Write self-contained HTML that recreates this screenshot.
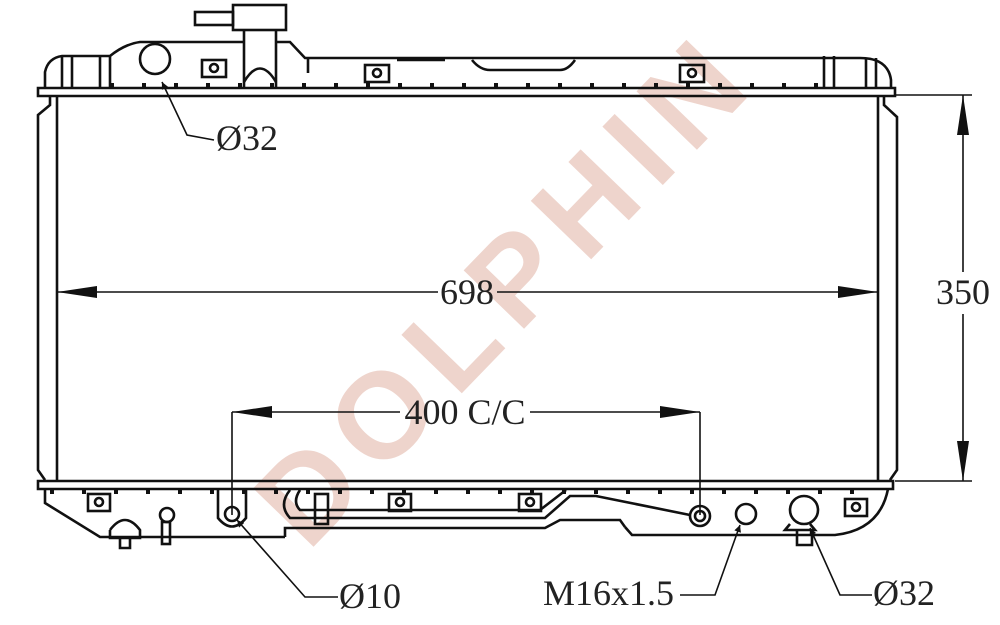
<!DOCTYPE html>
<html><head><meta charset="utf-8"><style>
html,body{margin:0;padding:0;background:#fff;width:1000px;height:625px;overflow:hidden}
svg{display:block}
text{font-family:"Liberation Serif",serif;fill:#222}
</style></head><body>
<svg width="1000" height="625" viewBox="0 0 1000 625" xmlns="http://www.w3.org/2000/svg">
<defs>
<marker id="a" viewBox="0 0 10 10" refX="10" refY="5" markerWidth="12" markerHeight="7" orient="auto-start-reverse" markerUnits="userSpaceOnUse"><path d="M0,0 L10,5 L0,10 z" fill="#111"/></marker>
<marker id="b" viewBox="0 0 40 14" refX="40" refY="7" markerWidth="40" markerHeight="14" orient="auto-start-reverse" markerUnits="userSpaceOnUse"><path d="M0,1 L40,7 L0,13 z" fill="#111"/></marker>
</defs>
<text x="0" y="0" transform="translate(507,300) rotate(-46)" text-anchor="middle" dominant-baseline="middle" textLength="640" lengthAdjust="spacing" style="font-family:'Liberation Sans',sans-serif;font-weight:bold;font-size:122px;fill:#eed4cc">DOLPHIN</text>

<g fill="none" stroke="#111" stroke-width="2.6">
<line x1="57" y1="97" x2="57" y2="480"/>
<line x1="878" y1="97" x2="878" y2="480"/>
<path d="M50,97 L50,105 L38,115 L38,470 L45,480"/>
<path d="M884,97 L884,105 L897,117 L897,470 L890,480"/>
<path d="M38,96 L895,96 L895,88 L38,88 Z"/>
<path d="M45,88 L45,72 Q48,58 62,56 L110,56 Q125,44 140,42 L244,42 M276,42 L290,42 L305,58 L860,58 Q888,58 891,80 L891,88"/>
<line x1="62" y1="56" x2="62" y2="88"/><line x1="72" y1="56" x2="72" y2="88"/>
<line x1="100" y1="56" x2="100" y2="88"/><line x1="110" y1="56" x2="110" y2="88"/>
<line x1="824" y1="56" x2="824" y2="88"/><line x1="834" y1="56" x2="834" y2="88"/>
<line x1="866" y1="58" x2="866" y2="88"/><line x1="876" y1="58" x2="876" y2="88"/>
<circle cx="155" cy="59" r="15"/>
<rect x="202" y="60" width="24" height="17"/><circle cx="214" cy="68" r="4"/>
<rect x="365" y="65" width="24" height="17"/><circle cx="377" cy="73" r="4"/>
<rect x="680" y="65" width="24" height="17"/><circle cx="692" cy="73" r="4"/>
<rect x="233" y="5" width="53" height="25"/>
<rect x="195" y="12" width="38" height="13"/>
<line x1="244" y1="30" x2="244" y2="88"/><line x1="276" y1="30" x2="276" y2="88"/>
<path d="M244,82 Q260,55 276,82"/>
<line x1="308" y1="58" x2="308" y2="73"/>
<path d="M397,60 L445,60 M472,60 Q480,70 490,70 L560,70 Q568,70 575,60"/>
<line x1="110" y1="85" x2="824" y2="85" stroke-width="4" stroke-dasharray="4 28"/>
<path d="M38,481 L893,481 L893,489 L38,489 Z"/>
<line x1="50" y1="492" x2="880" y2="492" stroke-width="4" stroke-dasharray="4 28"/>
<path d="M45,489 L45,503 L100,537 L285,537 M625,527 L632,535 L835,535 Q880,530 888,489"/>
<path d="M285,537 L285,528 L545,528 L560,520 L620,520 L625,527"/>
<rect x="88" y="494" width="22" height="17"/><circle cx="99" cy="502" r="4"/>
<rect x="389" y="494" width="22" height="17"/><circle cx="400" cy="502" r="4"/>
<rect x="519" y="494" width="22" height="17"/><circle cx="530" cy="502" r="4"/>
<rect x="845" y="499" width="22" height="17"/><circle cx="856" cy="507" r="4"/>
<path d="M110,530 Q125,510 140,530 L140,538 L120,538 L120,548 L130,548 L130,538 M110,530 L110,538 L140,538"/>
<circle cx="167" cy="515" r="7"/><rect x="162" y="522" width="8" height="22"/>
<path d="M218,490 L218,518 Q232,535 246,518 L246,490"/>
<circle cx="232" cy="514" r="7"/>
<path d="M290,490 Q278,505 290,518 L545,518 L570,496 L596,496 L690,515"/>
<path d="M300,490 Q292,502 300,510 L540,510 L566,490"/>
<rect x="315" y="494" width="13" height="30"/>
<circle cx="700" cy="516" r="10"/><circle cx="700" cy="516" r="5"/>
<circle cx="746" cy="514" r="10"/>
<circle cx="804" cy="510" r="14"/>
<path d="M790,524 L785,530 L815,530 L810,524 M797,530 L797,545 L812,545 L812,530"/>
</g>

<g stroke="#111" stroke-width="1.6" fill="none">
<line x1="57" y1="292" x2="438" y2="292" marker-start="url(#b)"/>
<line x1="497" y1="292" x2="878" y2="292" marker-end="url(#b)"/>
<line x1="895" y1="95" x2="972" y2="95"/>
<line x1="895" y1="481" x2="972" y2="481"/>
<line x1="963" y1="95" x2="963" y2="272" marker-start="url(#b)"/>
<line x1="963" y1="314" x2="963" y2="481" marker-end="url(#b)"/>
<line x1="232" y1="412" x2="400" y2="412" marker-start="url(#b)"/>
<line x1="530" y1="412" x2="700" y2="412" marker-end="url(#b)"/>
<line x1="232" y1="412" x2="232" y2="515"/>
<line x1="700" y1="412" x2="700" y2="515"/>
<path d="M162,82 L187,135 L214,140" marker-start="url(#a)"/>
<path d="M237,520 L305,597 L338,597" marker-start="url(#a)"/>
<path d="M740,525 L715,595 L680,595" marker-start="url(#a)"/>
<path d="M810,528 L840,595 L872,595" marker-start="url(#a)"/>
</g>

<g font-size="36">
<text x="467" y="304" text-anchor="middle">698</text>
<text x="963" y="304" text-anchor="middle">350</text>
<text x="465" y="424" text-anchor="middle">400 C/C</text>
<text x="216" y="150">Ø32</text>
<text x="339" y="608">Ø10</text>
<text x="543" y="605">M16x1.5</text>
<text x="873" y="605">Ø32</text>
</g>
</svg>
</body></html>
